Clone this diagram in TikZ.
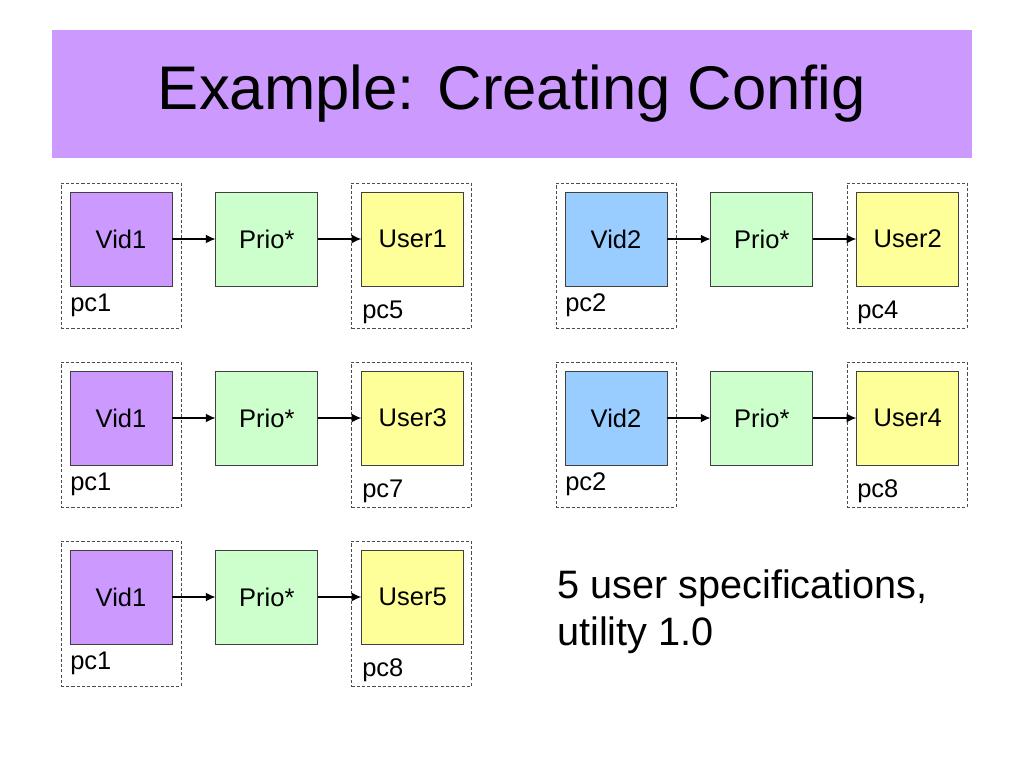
\documentclass[tikz,border=0pt]{standalone}
\usepackage{fontspec}
\setmainfont{Liberation Sans}
\usepackage{xcolor}
\usetikzlibrary{arrows.meta, positioning}

\definecolor{vidpurple}{HTML}{CC99FF}
\definecolor{vidblue}{HTML}{99CCFF}
\definecolor{priogreen}{HTML}{CCFFCC}
\definecolor{useryellow}{HTML}{FFFF99}

\begin{document}
\begin{tikzpicture}[
    x=0.24805mm, y=-0.24805mm,
    node distance=10.67mm,
    box/.style={rectangle, draw=black!75, line width=0.6pt, minimum width=25.3mm, minimum height=23.3mm, inner sep=0pt, align=center, font=\fontsize{18}{22}\selectfont},
    pcbox/.style={rectangle, draw=black!70, line width=0.6pt, dash pattern=on 2.2pt off 1.5pt, minimum width=29.8mm, minimum height=36mm, inner sep=0pt},
    pclabel/.style={anchor=base west, inner sep=0pt, font=\fontsize{18}{22}\selectfont},
    arrow/.style={-{Latex[length=2.4mm, width=2.2mm]}, line width=0.85pt}
]
\useasboundingbox (0,0) rectangle (1024,768);

% Title bar
\node[rectangle, fill=vidpurple, minimum width=228.2mm, minimum height=31.75mm, font=\fontsize{43.5}{52}\selectfont] (title) at (512,94) {Example: Creating Config};

% Dashed machine boxes - left column
\node[pcbox] (pcA1) at (121,255.5) {};
\node[pcbox] (pcA2) at (411.5,255.5) {};
\node[pcbox] (pcB1) at (121,434.5) {};
\node[pcbox] (pcB2) at (411.5,434.5) {};
\node[pcbox] (pcC1) at (121,613.5) {};
\node[pcbox] (pcC2) at (411.5,613.5) {};

% Dashed machine boxes - right column
\node[pcbox] (pcD1) at (616,255.5) {};
\node[pcbox] (pcD2) at (907,255.5) {};
\node[pcbox] (pcE1) at (616,434.5) {};
\node[pcbox] (pcE2) at (907,434.5) {};

% Row 1 - left
\node[box, fill=vidpurple] (vidA) at (121,239) {Vid1};
\node[box, fill=priogreen, right=of vidA] (prioA) {Prio*};
\node[box, fill=useryellow, right=of prioA] (userA) {User1};
\node[pclabel] (lblA1) at (70,311) {pc1};
\node[pclabel] (lblA2) at (362,318) {pc5};

% Row 2 - left
\node[box, fill=vidpurple] (vidB) at (121,418) {Vid1};
\node[box, fill=priogreen, right=of vidB] (prioB) {Prio*};
\node[box, fill=useryellow, right=of prioB] (userB) {User3};
\node[pclabel] (lblB1) at (70,490) {pc1};
\node[pclabel] (lblB2) at (362,497) {pc7};

% Row 3 - left
\node[box, fill=vidpurple] (vidC) at (121,597) {Vid1};
\node[box, fill=priogreen, right=of vidC] (prioC) {Prio*};
\node[box, fill=useryellow, right=of prioC] (userC) {User5};
\node[pclabel] (lblC1) at (70,669) {pc1};
\node[pclabel] (lblC2) at (362,676) {pc8};

% Row 1 - right
\node[box, fill=vidblue] (vidD) at (616,239) {Vid2};
\node[box, fill=priogreen, right=of vidD] (prioD) {Prio*};
\node[box, fill=useryellow, right=of prioD] (userD) {User2};
\node[pclabel] (lblD1) at (565,311) {pc2};
\node[pclabel] (lblD2) at (857,318) {pc4};

% Row 2 - right
\node[box, fill=vidblue] (vidE) at (616,418) {Vid2};
\node[box, fill=priogreen, right=of vidE] (prioE) {Prio*};
\node[box, fill=useryellow, right=of prioE] (userE) {User4};
\node[pclabel] (lblE1) at (565,490) {pc2};
\node[pclabel] (lblE2) at (857,497) {pc8};

% Summary text (base = last line)
\node[anchor=base west, inner sep=0pt, align=left, font=\fontsize{28}{32.5}\selectfont] (summary) at (557,645) {5 user specifications,\\utility 1.0};

% Arrows
\draw[arrow] (vidA) -- (prioA);
\draw[arrow] (prioA) -- (userA);
\draw[arrow] (vidB) -- (prioB);
\draw[arrow] (prioB) -- (userB);
\draw[arrow] (vidC) -- (prioC);
\draw[arrow] (prioC) -- (userC);
\draw[arrow] (vidD) -- (prioD);
\draw[arrow] (prioD) -- (userD);
\draw[arrow] (vidE) -- (prioE);
\draw[arrow] (prioE) -- (userE);

\end{tikzpicture}
\end{document}
